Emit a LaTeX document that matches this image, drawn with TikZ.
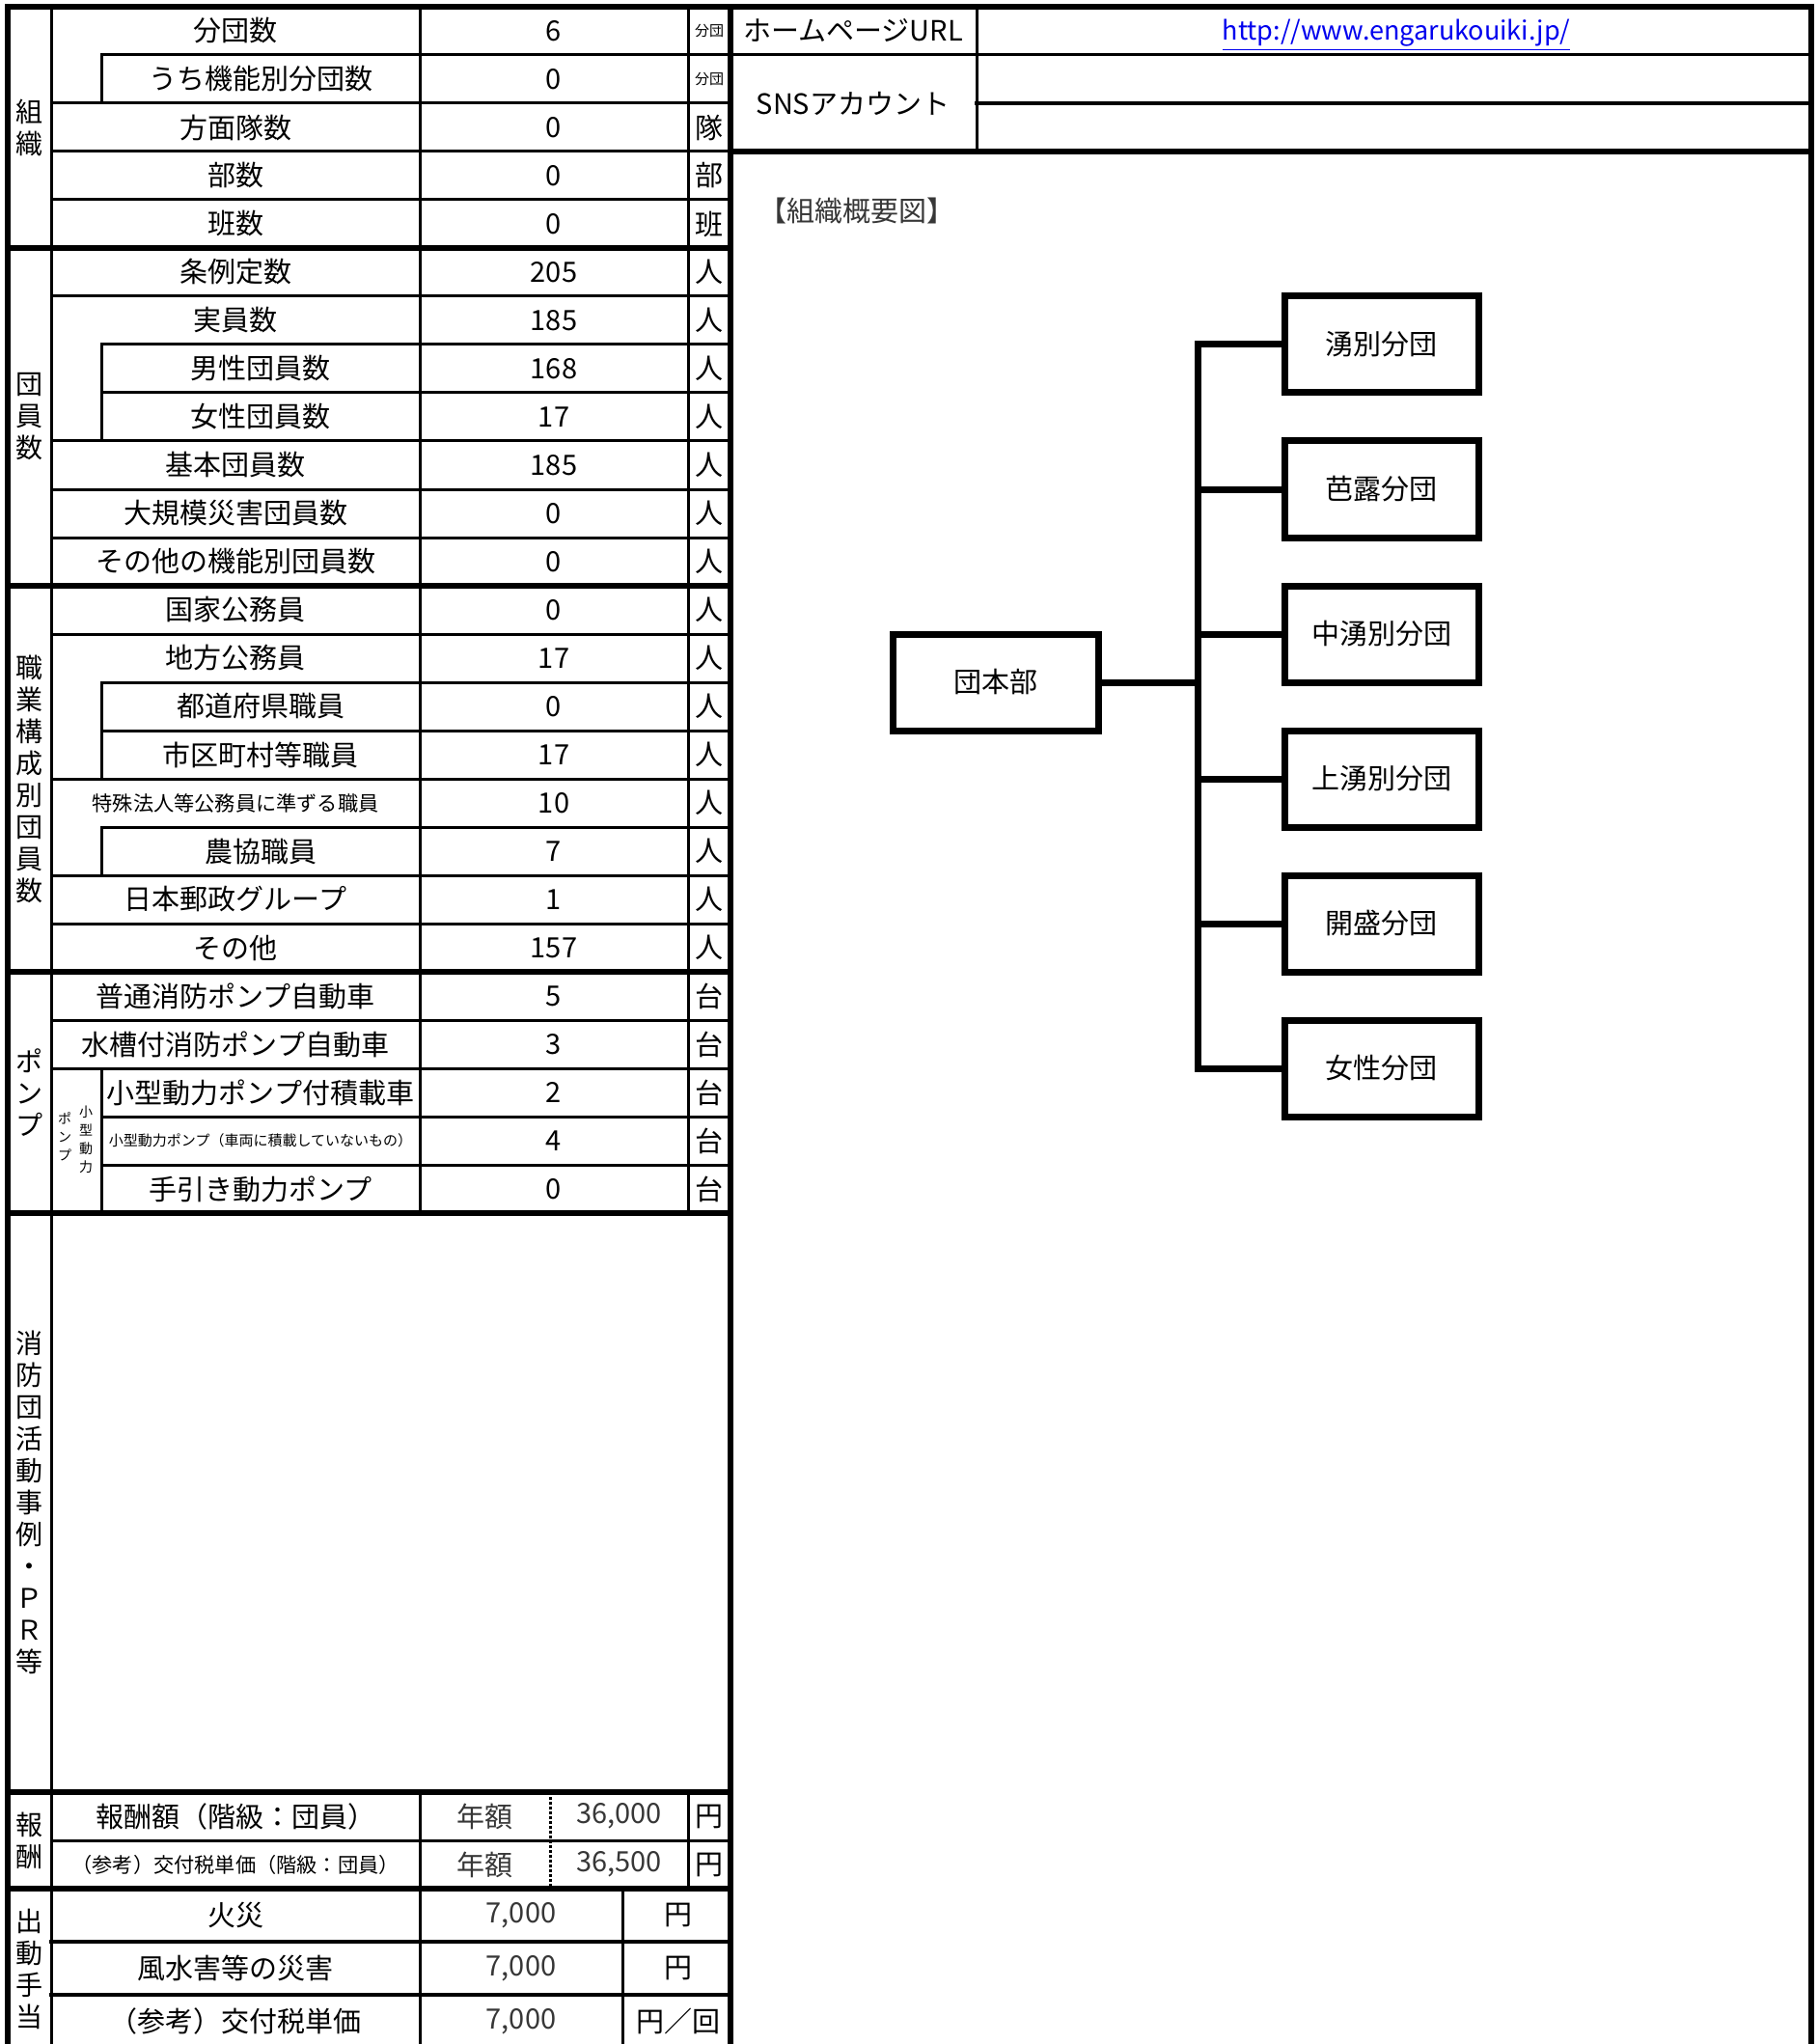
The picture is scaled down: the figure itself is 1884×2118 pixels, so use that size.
\documentclass[tikz,border=0pt]{standalone}
\usepackage{fontspec}
\setmainfont{Noto Sans CJK JP}
\usetikzlibrary{positioning}
\definecolor{urlblue}{RGB}{0,0,238}
\definecolor{softblack}{RGB}{55,55,55}

\begin{document}
\begin{tikzpicture}[x=0.5pt, y=-0.5pt,
	every node/.style={inner sep=0pt, font=\fontsize{14.5pt}{17pt}\selectfont},
	thinline/.style={line width=1.5pt, line cap=rect},
	midline/.style={line width=2pt, line cap=rect},
	thickline/.style={line width=3pt, line cap=rect},
	dotline/.style={line width=1.5pt, dash pattern=on 1.5pt off 1pt},
	catlabel/.style={align=center, font=\fontsize{14pt}{16.5pt}\selectfont},
	pumplabel/.style={align=center, font=\fontsize{7pt}{9.5pt}\selectfont},
	unitbox/.style={draw, line width=3.5pt, minimum width=100.5pt, minimum height=50pt},
	hqbox/.style={unitbox, minimum width=106.5pt},
	link/.style={line width=3.5pt, line join=miter}]
	\useasboundingbox (0,0) rectangle (1884,2118);
	\fill[white] (0,0) rectangle (1884,2118);
	\clip (0,0) rectangle (1884,2118);
	
	% font sizes for long labels
	\def\labsmall{\fontsize{10.6pt}{12pt}\selectfont}
	\def\labtiny{\fontsize{7.5pt}{9pt}\selectfont}
	
	% \tablerow#row#indent#label#value#unit
	\def\tablerow#1#2#3#4#5{
		\node (lab#1) at ({244+26*#2}, {32+50*#1}) {#3};
		\node (val#1) at (574, {32+50*#1}) {#4};
		\node (unit#1) at (735, {32+50*#1}) {#5};
	}
	
	% grid of the left table
	\foreach \k in {2,3,4,6,9,10,11,13,16,18,19,21,22}
		\draw[thinline] (53, {7+50*\k}) -- (757, {7+50*\k});
	\foreach \k in {1,7,8,14,15,17,23,24}
		\draw[thinline] (105, {7+50*\k}) -- (757, {7+50*\k});
	\foreach \k in {5,12,20,25}
		\draw[thickline] (8, {7+50*\k}) -- (757, {7+50*\k});
	\foreach \a/\b in {1/2,7/9,14/16,17/18,22/25}
		\draw[thinline] (105, {7+50*\a}) -- (105, {7+50*\b});
	\draw[thinline] (435,7) -- (435,1257) (713,7) -- (713,1257);
	\draw[thinline] (53,7) -- (53,2130);
	
	% pay and allowance
	\draw[thickline] (8,1857) -- (757,1857) (8,1957) -- (757,1957);
	\draw[thinline] (53,1907) -- (757,1907) (435,1857) -- (435,2130) (713,1857) -- (713,1957) (645,1957) -- (645,2130);
	\draw[midline] (53,2012) -- (757,2012) (53,2067) -- (757,2067);
	\draw[dotline] (570,1857) -- (570,1957);
	
	% right panel
	\draw[thinline] (757,57) -- (1877,57) (1012,7) -- (1012,157);
	\draw[midline] (1012,107) -- (1877,107);
	\draw[thickline] (757,157) -- (1877,157);
	
	% frame
	\draw[thickline] (8,2130) -- (8,7) -- (1877,7) -- (1877,2130);
	\draw[thickline] (757,7) -- (757,2130);
	
	% rows
	\foreach \r/\i/\l/\v/\u in {
		0/0/分団数/6/{\labtiny 分団},
		1/1/うち機能別分団数/0/{\labtiny 分団},
		2/0/方面隊数/0/隊,
		3/0/部数/0/部,
		4/0/班数/0/班,
		5/0/条例定数/205/人,
		6/0/実員数/185/人,
		7/1/男性団員数/168/人,
		8/1/女性団員数/17/人,
		9/0/基本団員数/185/人,
		10/0/大規模災害団員数/0/人,
		11/0/その他の機能別団員数/0/人,
		12/0/国家公務員/0/人,
		13/0/地方公務員/17/人,
		14/1/都道府県職員/0/人,
		15/1/市区町村等職員/17/人,
		16/0/{\labsmall 特殊法人等公務員に準ずる職員}/10/人,
		17/1/農協職員/7/人,
		18/0/日本郵政グループ/1/人,
		19/0/その他/157/人,
		20/0/普通消防ポンプ自動車/5/台,
		21/0/水槽付消防ポンプ自動車/3/台,
		22/1/小型動力ポンプ付積載車/2/台,
		23/1/{\labtiny 小型動力ポンプ（車両に積載していないもの）}/4/台,
		24/1/手引き動力ポンプ/0/台}
		{\tablerow{\r}{\i}{\l}{\v}{\u}}
	
	% vertical headings
	\node[catlabel] (catorg) at (30.5,132) {組\\織};
	\node[catlabel] (catmem) at (30.5,432) {団\\員\\数};
	\node[catlabel] (catjob) at (30.5,807) {職\\業\\構\\成\\別\\団\\員\\数};
	\node[catlabel] (catpump) at (30.5,1132) {ポ\\ン\\プ};
	\node[catlabel] (catpr) at (30.5,1557) {消\\防\\団\\活\\動\\事\\例\\・\\Ｐ\\Ｒ\\等};
	\node[catlabel] (catpay) at (30.5,1907) {報\\酬};
	\node[catlabel] (catduty) at (30.5,2040) {出\\動\\手\\当};
	\node[pumplabel] (pumpa) at (89,1181) {小\\型\\動\\力};
	\node[pumplabel] (pumpb) at (67,1178) {ポ\\ン\\プ};
	
	% pay
	\node (paylab0) at (244,1882) {報酬額（階級：団員）};
	\node[text=softblack] (payyear0) at (502,1882) {年額};
	\node[anchor=east, text=softblack] (payval0) at (686,1882) {36,000};
	\node (payunit0) at (735,1882) {円};
	\node (paylab1) at (244,1932) {\labsmall （参考）交付税単価（階級：団員）};
	\node[text=softblack] (payyear1) at (502,1932) {年額};
	\node[anchor=east, text=softblack] (payval1) at (686,1932) {36,500};
	\node (payunit1) at (735,1932) {円};
	
	% allowance
	\foreach \r/\l/\u in {0/火災/円, 1/風水害等の災害/円, 2/（参考）交付税単価/円／回} {
		\node (dutylab\r) at (244, {1984.5+55*\r}) {\l};
		\node[text=softblack] (dutyval\r) at (540, {1984.5+55*\r}) {7,000};
		\node (dutyunit\r) at (703, {1984.5+55*\r}) {\u};
	}
	
	% homepage and sns
	\node (hplabel) at (884,32) {ホームページURL};
	\node[text=urlblue, font=\fontsize{13.5pt}{16pt}\selectfont] (hpurl) at (1447,36) {\underline{http://www.engarukouiki.jp/}};
	\node (snslabel) at (884,107) {SNSアカウント};
	\node[anchor=west, text=softblack] (charttitle) at (786,218) {【組織概要図】};
	
	% organisation chart
	\node[hqbox] (hq) at (1032,707) {団本部};
	\foreach \i/\n in {0/湧別分団, 1/芭露分団, 2/中湧別分団, 3/上湧別分団, 4/開盛分団, 5/女性分団}
		\node[unitbox] (br\i) at (1431.5, {357+150*\i}) {\n};
	\coordinate (trunk) at (1241,707);
	\draw[link] (hq.east) -- (trunk);
	\draw[link] (br0.west) -- (br0.west -| trunk) -- (br5.west -| trunk) -- (br5.west);
	\foreach \i in {1,...,4}
		\draw[link] (br\i.west -| trunk) -- (br\i.west);
\end{tikzpicture}
\end{document}
